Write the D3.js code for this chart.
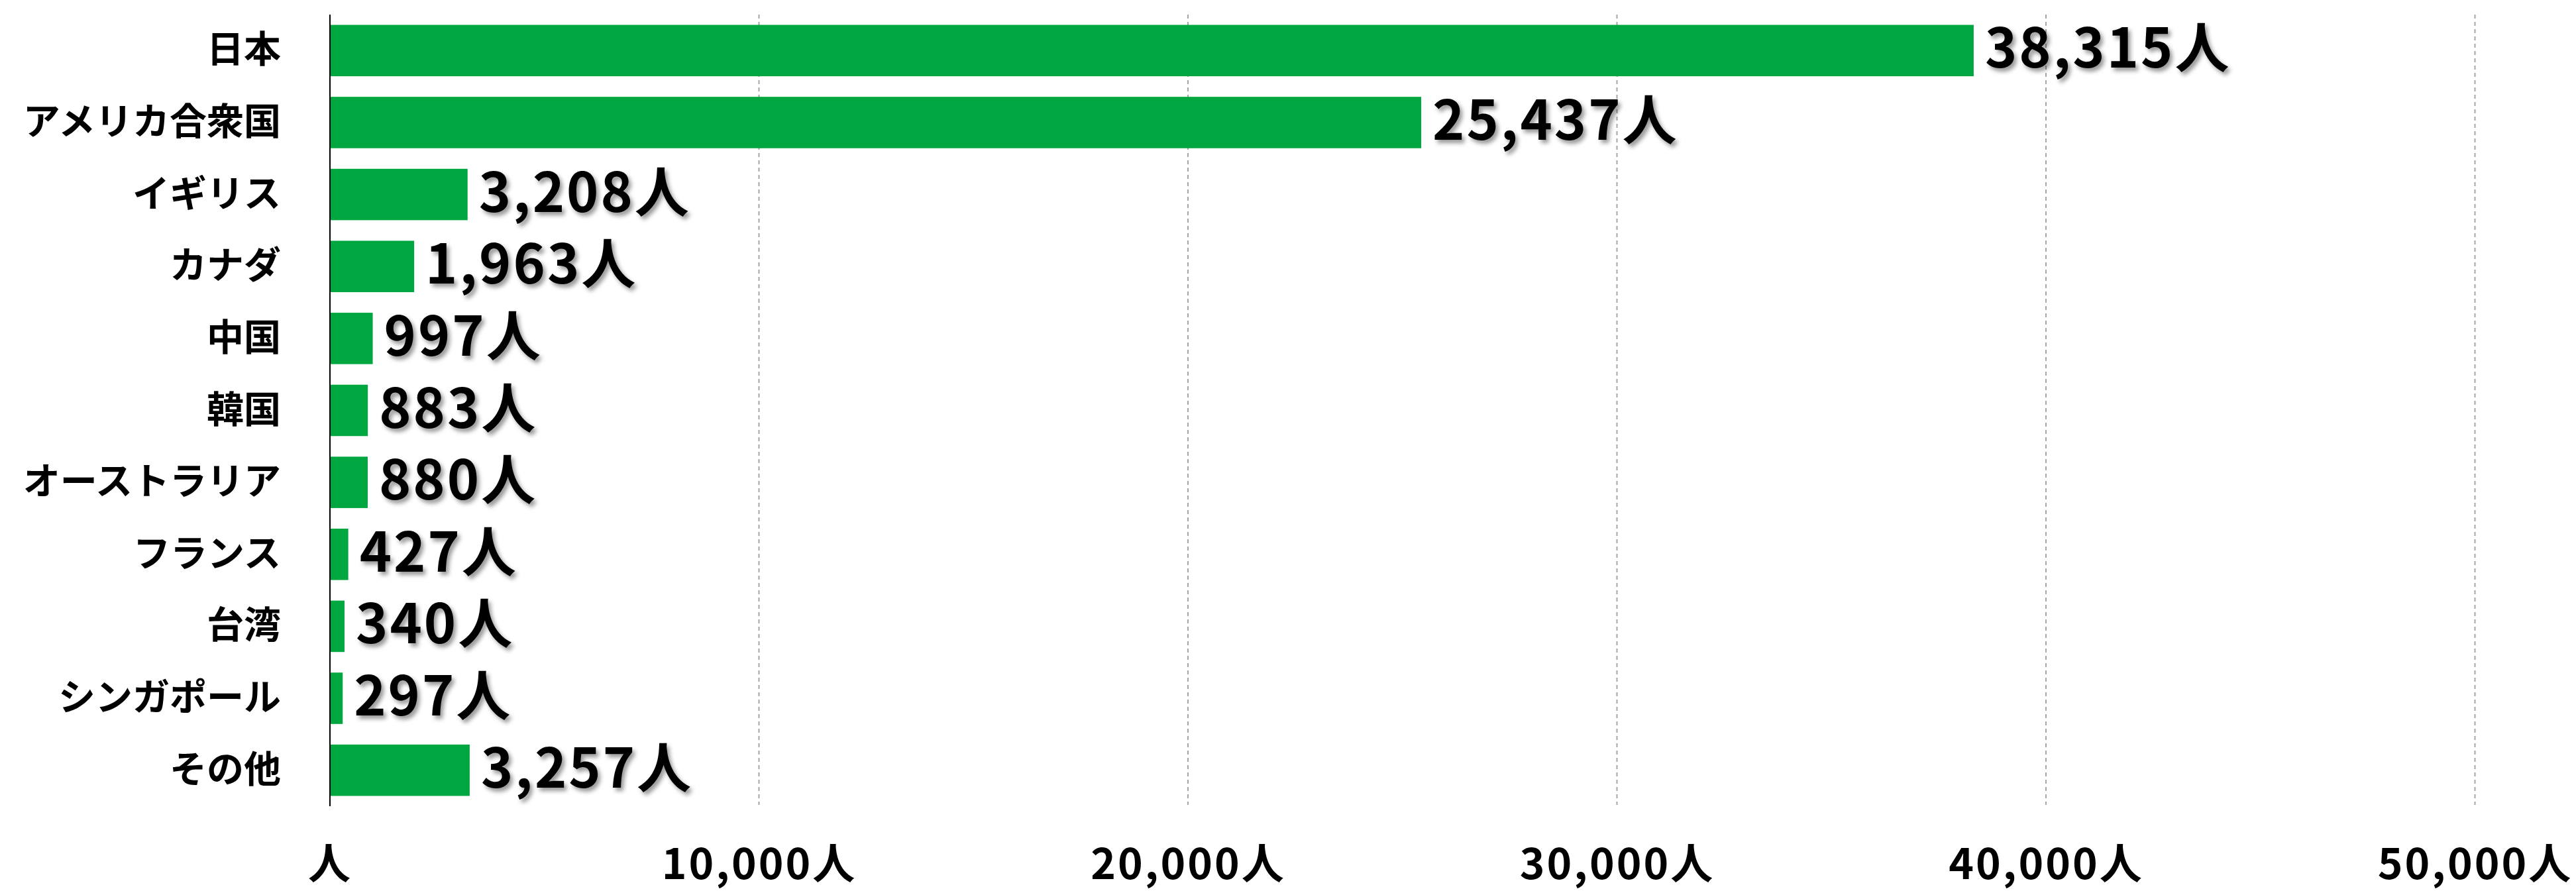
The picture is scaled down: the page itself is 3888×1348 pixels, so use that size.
<!DOCTYPE html>
<html><head><meta charset="utf-8">
<script src="https://cdn.jsdelivr.net/npm/d3@7/dist/d3.min.js"></script>
<style>
html,body{margin:0;padding:0;background:#fff;}
svg{display:block;}
text{font-family:"Noto Sans CJK JP","Noto Sans",sans-serif;font-weight:bold;fill:#000;}
</style></head>
<body>
<svg id="chart" width="3888" height="1348"></svg>
<script>
const categories = ["日本","アメリカ合衆国","イギリス","カナダ","中国","韓国","オーストラリア","フランス","台湾","シンガポール","その他"];
const values = [38315,25437,3208,1963,997,883,880,427,340,297,3257];
const tickValues = [0,10000,20000,30000,40000,50000];
const unit = "人";

const svg = d3.select("#chart");
const x = d3.scaleLinear().domain([0,50000]).range([498,3735.5]);
const y = d3.scaleBand().domain(categories).range([22,1217]).paddingInner(0.286).paddingOuter(0.143);

const defs = svg.append("defs");
const f = defs.append("filter").attr("id","shadow").attr("x","-10%").attr("y","-30%").attr("width","130%").attr("height","170%");
f.append("feDropShadow").attr("dx",4).attr("dy",5).attr("stdDeviation",3).attr("flood-color","#000").attr("flood-opacity",0.4);

const fmt = v => v===0 ? unit : d3.format(",")(v)+unit;

// gridlines
svg.append("g").selectAll("line").data(tickValues.filter(d=>d>0)).join("line")
  .attr("x1",d=>x(d)).attr("x2",d=>x(d)).attr("y1",22).attr("y2",1215)
  .attr("stroke","#a6a6a6").attr("stroke-width",2).attr("stroke-dasharray","6,5");

// x tick labels
const xAxis = d3.axisBottom(x).tickValues(tickValues).tickFormat(fmt).tickSize(0).tickPadding(0);
const gx = svg.append("g").attr("transform","translate(0,1327)").call(xAxis);
gx.select(".domain").remove();
gx.selectAll("text").attr("dy",0).attr("y",0).style("font-size","64px").style("letter-spacing","3px")
  .attr("fill","#000");

// bars
svg.append("g").selectAll("rect").data(values).join("rect")
  .attr("x",x(0)).attr("y",(d,i)=>y(categories[i]))
  .attr("width",d=>x(d)-x(0)).attr("height",y.bandwidth())
  .attr("fill","#00a63f");

// axis line
svg.append("line").attr("x1",x(0)).attr("x2",x(0)).attr("y1",22).attr("y2",1217)
  .attr("stroke","#000").attr("stroke-width",2);

// category labels
svg.append("g").selectAll("text").data(categories).join("text")
  .attr("x",424).attr("y",d=>y(d)+y.bandwidth()/2+18)
  .attr("text-anchor","end").style("font-size","56px").text(d=>d);

// value labels
svg.append("g").selectAll("text").data(values).join("text")
  .attr("x",d=>x(d)+17).attr("y",(d,i)=>y(categories[i])+y.bandwidth()/2+26)
  .style("font-size","82px").style("letter-spacing","3px")
  .attr("filter","url(#shadow)").text(d=>fmt(d));
</script>
</body></html>
